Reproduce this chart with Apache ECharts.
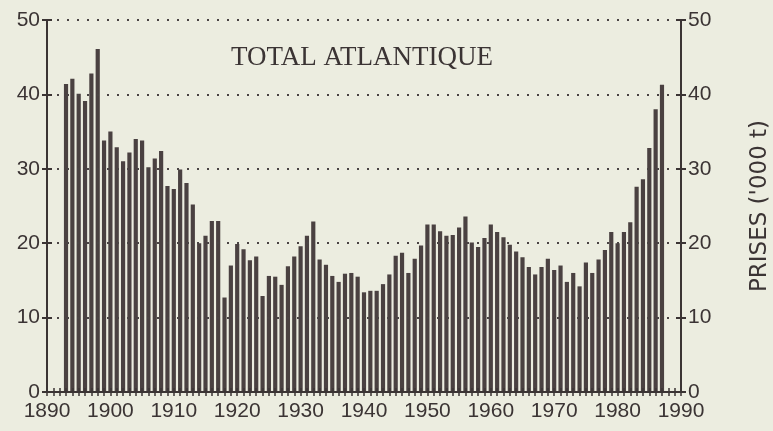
<!DOCTYPE html>
<html>
<head>
<meta charset="utf-8">
<script src="https://cdn.jsdelivr.net/npm/echarts@6/dist/echarts.min.js"></script>
<style>
    html, body { margin: 0; padding: 0; background: #ecede0; }
    #container { width: 773px; height: 431px; }
</style>
</head>
<body>
<div id="container"></div>
<script type="text/javascript">
// annees et prises (milliers de tonnes)
var years = [
    1893, 1894, 1895, 1896, 1897, 1898, 1899,
    1900, 1901, 1902, 1903, 1904, 1905, 1906, 1907, 1908, 1909,
    1910, 1911, 1912, 1913, 1914, 1915, 1916, 1917, 1918, 1919,
    1920, 1921, 1922, 1923, 1924, 1925, 1926, 1927, 1928, 1929,
    1930, 1931, 1932, 1933, 1934, 1935, 1936, 1937, 1938, 1939,
    1940, 1941, 1942, 1943, 1944, 1945, 1946, 1947, 1948, 1949,
    1950, 1951, 1952, 1953, 1954, 1955, 1956, 1957, 1958, 1959,
    1960, 1961, 1962, 1963, 1964, 1965, 1966, 1967, 1968, 1969,
    1970, 1971, 1972, 1973, 1974, 1975, 1976, 1977, 1978, 1979,
    1980, 1981, 1982, 1983, 1984, 1985, 1986, 1987
];
var prises = [
    41.4, 42.1, 40.1, 39.1, 42.8, 46.1, 33.8,
    35.0, 32.9, 31.0, 32.2, 34.0, 33.8, 30.2, 31.4, 32.4, 27.7,
    27.3, 29.9, 28.1, 25.2, 20.0, 21.0, 23.0, 23.0, 12.7, 17.0,
    19.9, 19.2, 17.7, 18.2, 12.9, 15.6, 15.5, 14.4, 16.9, 18.2,
    19.6, 21.0, 22.9, 17.8, 17.1, 15.6, 14.8, 15.9, 16.0, 15.5,
    13.4, 13.6, 13.6, 14.5, 15.8, 18.3, 18.7, 16.0, 17.9, 19.7,
    22.5, 22.5, 21.6, 21.0, 21.1, 22.1, 23.6, 20.1, 19.5, 20.7,
    22.5, 21.5, 20.8, 19.8, 18.9, 18.1, 16.8, 15.8, 16.8, 17.9,
    16.4, 17.0, 14.8, 16.0, 14.2, 17.4, 16.0, 17.8, 19.1, 21.5,
    20.0, 21.5, 22.8, 27.6, 28.6, 32.8, 38.0, 41.3
];
var xTicks = [1890, 1900, 1910, 1920, 1930, 1940, 1950, 1960, 1970, 1980, 1990];
var yTicks = [0, 10, 20, 30, 40, 50];

var ink = '#3b3434';
var paper = '#ecede0';
var points = years.map(function (y, i) {
    return [y, prises[i]];
});

// axe x : graduations annuelles de part et d'autre de l'axe
function xAxisDef(inside) {
    return {
        type: 'value',
        min: xTicks[0],
        max: xTicks[xTicks.length - 1],
        interval: xTicks[1] - xTicks[0],
        position: 'bottom',
        z: 5,
        axisLine: { show: !inside, onZero: false, lineStyle: { color: ink, width: 2 } },
        axisTick: { show: true, inside: inside, length: 4, lineStyle: { color: ink, width: 1.5 } },
        minorTick: { show: true, splitNumber: 10, length: 4, lineStyle: { color: ink, width: 1.5 } },
        axisLabel: {
            show: !inside,
            margin: 9,
            color: ink,
            fontSize: 21,
            fontFamily: 'Liberation Sans',
            formatter: function (v) { return String(v); }
        },
        splitLine: { show: false }
    };
}

function yAxisDef(pos, inside) {
    return {
        type: 'value',
        min: yTicks[0],
        max: yTicks[yTicks.length - 1],
        interval: yTicks[1] - yTicks[0],
        position: pos,
        z: 5,
        axisLine: { show: !inside, lineStyle: { color: ink, width: 2 } },
        axisTick: { show: true, inside: inside, length: 5, lineStyle: { color: ink, width: 2 } },
        axisLabel: {
            show: !inside,
            margin: 7,
            color: ink,
            fontSize: 21,
            fontFamily: 'Liberation Sans'
        },
        splitLine: { show: false }
    };
}

var yLeft = yAxisDef('left', false);
yLeft.splitLine = {
    show: true,
    lineStyle: { color: '#4a4444', width: 2, type: [2, 8] }
};
var yRight = yAxisDef('right', false);
yRight.name = "PRISES ('000 t)";
yRight.nameLocation = 'middle';
yRight.nameRotate = 90;
yRight.nameGap = 68;
yRight.nameTextStyle = { color: ink, fontSize: 23, fontFamily: 'DejaVu Sans' };

var myChart = echarts.init(document.getElementById('container'));
var option = {
    backgroundColor: paper,
    animation: false,
    title: {
        text: 'TOTAL ATLANTIQUE',
        left: 226,
        top: 39,
        textStyle: { fontFamily: 'Liberation Serif', fontWeight: 'normal', fontSize: 27, color: ink }
    },
    grid: { left: 47, right: 92, top: 20, bottom: 39, outerBoundsMode: 'none' },
    xAxis: [xAxisDef(false), xAxisDef(true)],
    yAxis: [yLeft, yRight, yAxisDef('left', true), yAxisDef('right', true)],
    series: [{
        // cache les pointilles derriere les barres
        name: 'masque',
        type: 'bar',
        xAxisIndex: 1,
        yAxisIndex: 0,
        data: points,
        barWidth: '100%',
        silent: true,
        itemStyle: { color: paper },
        z: 2
    }, {
        name: 'prises',
        type: 'bar',
        xAxisIndex: 0,
        yAxisIndex: 0,
        data: points,
        barWidth: '66%',
        itemStyle: { color: '#4a4141' },
        z: 3
    }]
};
myChart.setOption(option);
</script>
</body>
</html>
